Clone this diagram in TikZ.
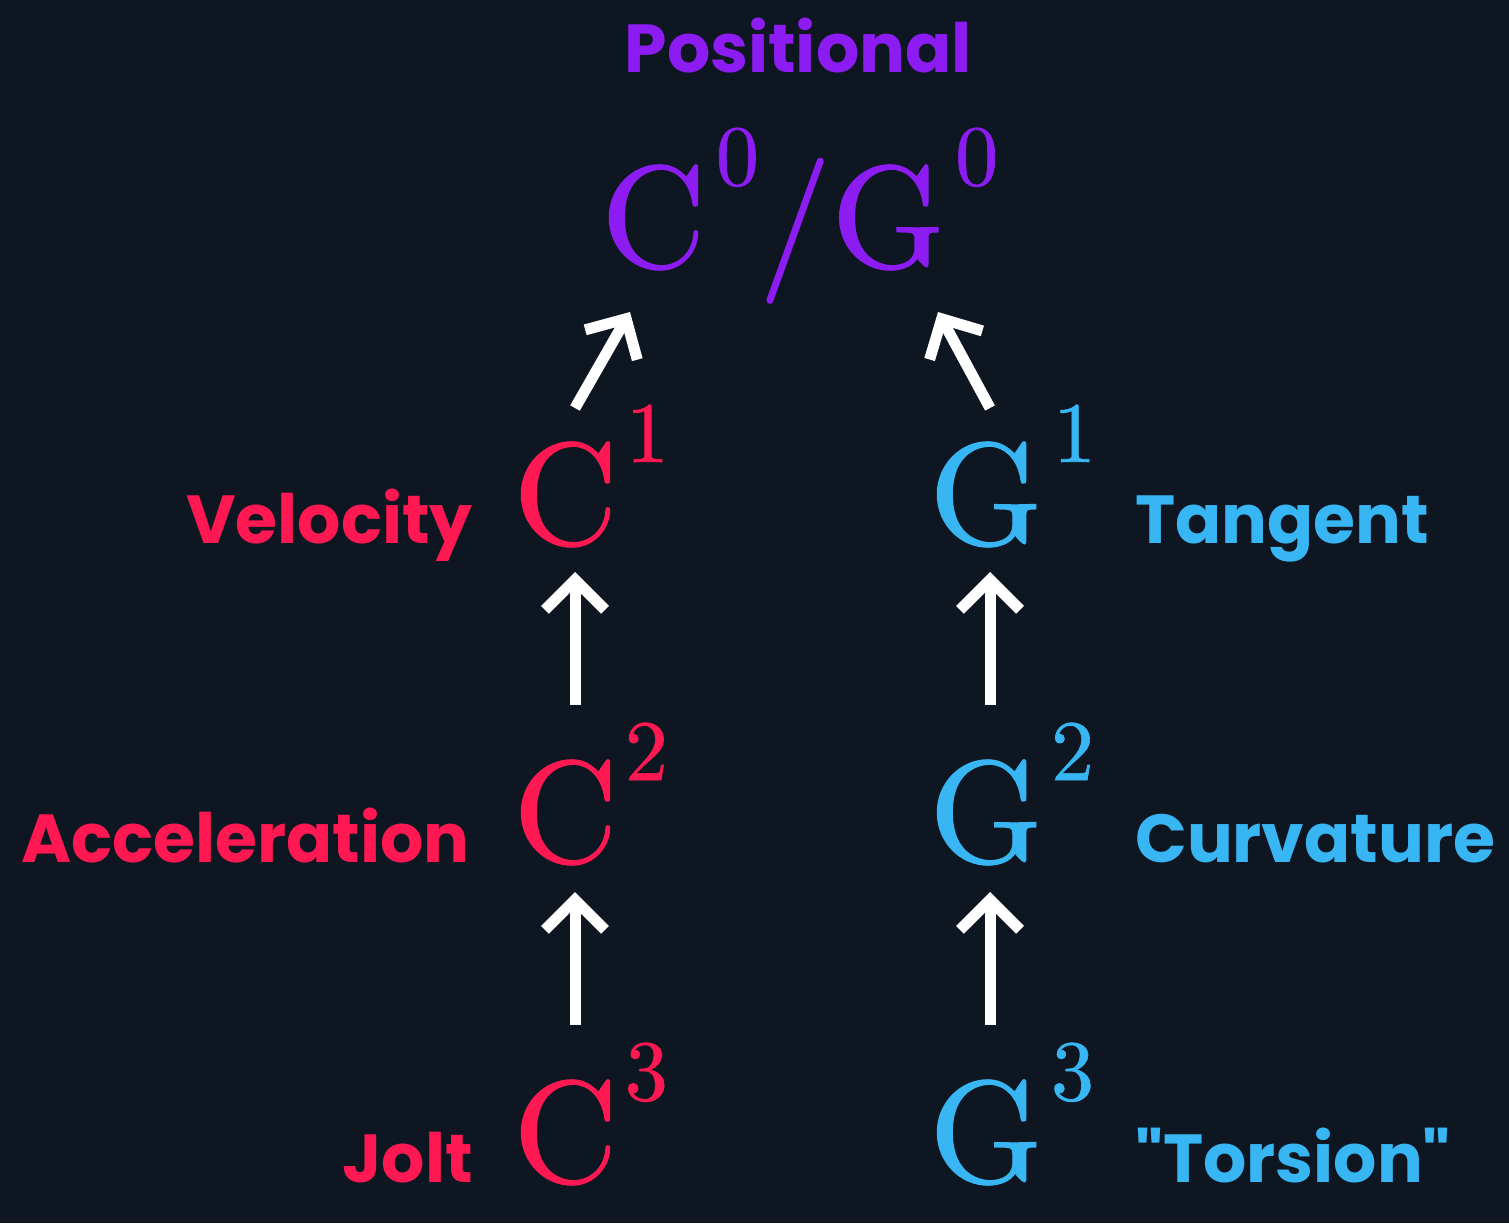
\documentclass[tikz,border=0pt]{standalone}
\usepackage{fontspec}
\newfontfamily\pop{Poppins}
\newfontfamily\cm{lmroman10-regular}[Extension=.otf,FakeBold=0.8]
\usetikzlibrary{arrows.meta}
\definecolor{bg}{RGB}{14,23,33}
\definecolor{pur}{RGB}{140,28,242}
\definecolor{crd}{RGB}{255,24,82}
\definecolor{gbl}{RGB}{56,182,244}
\newcommand\sups[1]{\raisebox{82pt}{\fontsize{86}{86}\selectfont #1}}
\tikzset{
  lab/.style={font=\pop\bfseries\fontsize{68}{68}\selectfont, inner sep=0pt},
  sym/.style={font=\cm\fontsize{145}{145}\selectfont, inner sep=0pt, anchor=base west},
  arr/.style={draw=white, line width=11pt, -{Straight Barb[length=30pt,width=60pt]}},
}
\begin{document}
\begin{tikzpicture}[x=1pt,y=-1pt]
\fill[bg] (0,0) rectangle (1509,1223);
\useasboundingbox (0,0) rectangle (1509,1223);
% title
\node[lab, text=pur, anchor=base] (pos) at (798,72) {Positional};
% symbols
\node[sym, text=pur] (c0) at (601,267) {C\kern10pt\sups{0}/G\kern10pt\sups{0}};
\node[sym, text=crd] (c1) at (513,544) {C\kern8pt\sups{1}};
\node[sym, text=crd] (c2) at (513,862) {C\kern7pt\sups{2}};
\node[sym, text=crd] (c3) at (513,1182) {C\kern7pt\sups{3}};
\node[sym, text=gbl] (g1) at (929,544) {G\kern10pt\sups{1}};
\node[sym, text=gbl] (g2) at (929,862) {G\kern8pt\sups{2}};
\node[sym, text=gbl] (g3) at (929,1182) {G\kern8pt\sups{3}};
% labels
\node[lab, text=crd, anchor=base east] (vel) at (473,543) {Velocity};
\node[lab, text=crd, anchor=base east] (acc) at (470,862) {Acceleration};
\node[lab, text=crd, anchor=base east] (jolt) at (473,1182) {Jolt};
\node[lab, text=gbl, anchor=base west] (tan) at (1135,543) {Tangent};
\node[lab, text=gbl, anchor=base west] (cur) at (1135,862) {Curvature};
\node[lab, text=gbl, anchor=base west] (tor) at (1135,1182) {"Torsion"};
% arrow end points
\coordinate (l0s) at (575,408); \coordinate (l0e) at (630,312);
\coordinate (r0s) at (990,408); \coordinate (r0e) at (938,312);
\coordinate (l1s) at (575,705); \coordinate (l1e) at (575,572);
\coordinate (l2s) at (575,1025); \coordinate (l2e) at (575,892);
\coordinate (r1s) at (990,705); \coordinate (r1e) at (990,572);
\coordinate (r2s) at (990,1025); \coordinate (r2e) at (990,892);
\draw[arr] (l0s) -- (l0e);
\draw[arr] (r0s) -- (r0e);
\draw[arr] (l1s) -- (l1e);
\draw[arr] (l2s) -- (l2e);
\draw[arr] (r1s) -- (r1e);
\draw[arr] (r2s) -- (r2e);
\end{tikzpicture}
\end{document}
